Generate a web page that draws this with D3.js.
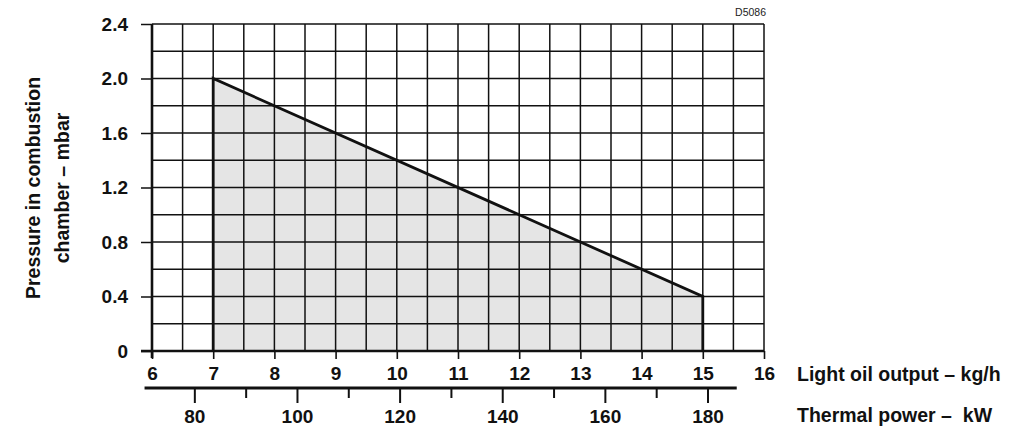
<!DOCTYPE html>
<html>
<head>
<meta charset="utf-8">
<script src="https://cdn.jsdelivr.net/npm/d3@7"></script>
<style>
  body { margin: 0; background: #fff; }
  svg { display: block; font-family: "Liberation Sans", Arial, sans-serif; }
</style>
</head>
<body>
<div id="chart"></div>
<script>
var width = 1024,
    height = 444;

// data
var oilOutput = [7, 7, 15, 15];          // kg/h
var pressure = [0, 2.0, 0.4, 0];         // mbar
var oilTicks = [6, 7, 8, 9, 10, 11, 12, 13, 14, 15, 16];
var pressureTicks = [0, 0.4, 0.8, 1.2, 1.6, 2.0, 2.4];
var powerMajor = [80, 100, 120, 140, 160, 180];
var powerMinor = [90, 110, 130, 150, 170];
var powerAtOil = [[6.70, 80], [15.085, 180]]; // kg/h -> kW alignment

var svg = d3.select('#chart').append('svg')
    .attr('width', width)
    .attr('height', height);

var x = d3.scaleLinear().domain([6, 16]).range([152, 764]);
var y = d3.scaleLinear().domain([0, 2.4]).range([351, 24]);
var kw = d3.scaleLinear()
    .domain([powerAtOil[0][1], powerAtOil[1][1]])
    .range([x(powerAtOil[0][0]), x(powerAtOil[1][0])]);

// shaded working field
var pts = oilOutput.map(function(d, i) { return [d, pressure[i]]; });
var line = d3.line()
    .x(function(d) { return x(d[0]); })
    .y(function(d) { return y(d[1]); });

svg.append('path')
    .attr('d', line(pts) + 'Z')
    .attr('fill', '#e5e5e5');

// grid
var g = svg.append('g').attr('stroke', '#111').attr('stroke-width', 1.5);
d3.range(6, 16.01, 0.5).forEach(function(v) {
    g.append('line')
        .attr('x1', x(v)).attr('x2', x(v))
        .attr('y1', y(2.4)).attr('y2', y(0));
});
d3.range(0, 2.41, 0.2).forEach(function(v) {
    g.append('line')
        .attr('x1', x(6)).attr('x2', x(16))
        .attr('y1', y(v)).attr('y2', y(v));
});

// y axis
var yAxis = svg.append('g')
    .attr('transform', 'translate(' + x(6) + ',0)')
    .call(d3.axisLeft(y).tickValues(pressureTicks).tickSize(11).tickPadding(13)
        .tickFormat(function(d) { return d === 0 ? '0' : d3.format('.1f')(d); }));
yAxis.select('.domain').remove();
yAxis.selectAll('line').attr('stroke', '#111').attr('stroke-width', 1.5);

// x axis (kg/h)
var xAxis = svg.append('g')
    .attr('transform', 'translate(0,' + y(0) + ')')
    .call(d3.axisBottom(x).tickValues(oilTicks).tickSize(8).tickPadding(8));
xAxis.select('.domain').remove();
xAxis.selectAll('line').attr('stroke', '#111').attr('stroke-width', 1.6);

svg.selectAll('.tick text')
    .attr('font-family', '"Liberation Sans", Arial, sans-serif')
    .attr('font-size', 19)
    .attr('font-weight', 'bold')
    .attr('fill', '#111');

// heavier axis lines
svg.append('line')
    .attr('x1', x(6)).attr('x2', x(6))
    .attr('y1', y(2.4)).attr('y2', y(0) + 7)
    .attr('stroke', '#111').attr('stroke-width', 2.6);
svg.append('line')
    .attr('x1', x(6) - 11).attr('x2', x(16))
    .attr('y1', y(0)).attr('y2', y(0))
    .attr('stroke', '#111').attr('stroke-width', 2.6);

// outline of the field
svg.append('path')
    .attr('d', line(pts))
    .attr('fill', 'none')
    .attr('stroke', '#111')
    .attr('stroke-width', 2.8)
    .attr('stroke-linejoin', 'miter');

// thermal power axis
var kwY = 388;
var kAxis = svg.append('g').attr('transform', 'translate(0,' + kwY + ')');
kAxis.append('line')
    .attr('x1', kw(70.2)).attr('x2', kw(185.6))
    .attr('stroke', '#111').attr('stroke-width', 3);
kAxis.selectAll('.major').data(powerMajor).enter().append('line')
    .attr('class', 'major')
    .attr('x1', kw).attr('x2', kw)
    .attr('y1', 0).attr('y2', 15)
    .attr('stroke', '#111').attr('stroke-width', 2);
kAxis.selectAll('.minor').data(powerMinor).enter().append('line')
    .attr('class', 'minor')
    .attr('x1', kw).attr('x2', kw)
    .attr('y1', 0).attr('y2', 10)
    .attr('stroke', '#111').attr('stroke-width', 2);
kAxis.selectAll('text').data(powerMajor).enter().append('text')
    .attr('x', kw)
    .attr('y', 35)
    .attr('text-anchor', 'middle')
    .attr('font-size', 19)
    .attr('font-weight', 'bold')
    .attr('fill', '#111')
    .text(function(d) { return d; });

// labels
svg.append('text')
    .attr('x', 797).attr('y', 381)
    .attr('font-size', 19.5).attr('font-weight', 'bold').attr('fill', '#111')
    .text('Light oil output – kg/h');
svg.append('text')
    .attr('x', 797).attr('y', 422)
    .attr('font-size', 19.5).attr('font-weight', 'bold').attr('fill', '#111')
    .style('white-space', 'pre')
    .text('Thermal power –  kW');

var yl = svg.append('text')
    .attr('transform', 'translate(49,188) rotate(-90)')
    .attr('text-anchor', 'middle')
    .attr('font-size', 19.5).attr('font-weight', 'bold').attr('fill', '#111');
yl.append('tspan').attr('x', 0).attr('dy', '-0.45em').text('Pressure in combustion');
yl.append('tspan').attr('x', 0).attr('dy', '1.45em').text('chamber – mbar');

svg.append('text')
    .attr('x', 766).attr('y', 16)
    .attr('text-anchor', 'end')
    .attr('font-size', 10.5).attr('fill', '#222')
    .text('D5086');
</script>
</body>
</html>
